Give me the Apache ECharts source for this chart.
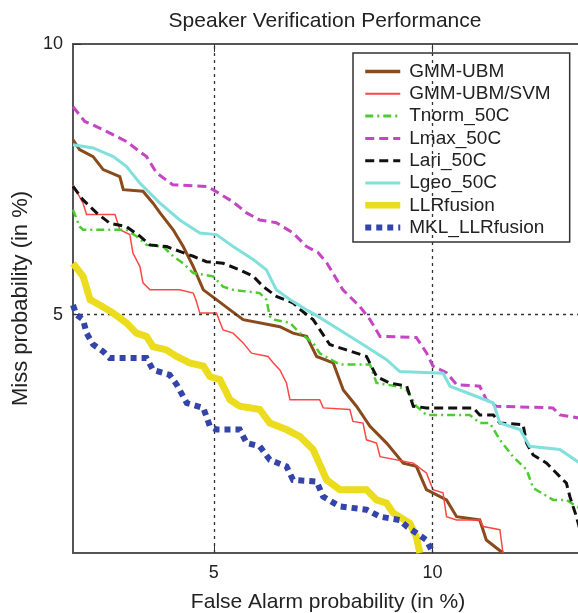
<!DOCTYPE html>
<html>
<head>
<meta charset="utf-8">
<script src="https://cdn.jsdelivr.net/npm/echarts@6/dist/echarts.min.js"></script>
<style>html,body{margin:0;padding:0;background:#fff}#c{width:578px;height:613px}</style>
</head>
<body>
<div id="c"></div>
<script>
const seriesNames = ["GMM-UBM","GMM-UBM/SVM","Tnorm_50C","Lmax_50C","Lari_50C","Lgeo_50C","LLRfusion","MKL_LLRfusion"];
const xTicks = [5, 10];
const yTicks = [5, 10];
const gridX = [5, 10];
const gridY = [5];

const gmmUbm = [[1.78,8.23],[1.93,8.05],[2.24,7.92],[2.47,7.68],[2.85,7.55],[2.93,7.31],[3.38,7.28],[3.61,7.06],[3.77,6.88],[4.07,6.57],[4.30,6.26],[4.53,5.89],[4.76,5.46],[5.06,5.28],[5.37,5.09],[5.67,4.91],[6.51,4.78],[6.81,4.66],[7.12,4.60],[7.35,4.23],[7.73,4.11],[7.96,3.61],[8.26,3.31],[8.57,2.94],[8.95,2.63],[9.33,2.26],[9.63,2.20],[9.86,1.77],[10.32,1.58],[10.55,1.27],[11.08,1.21],[11.23,0.84],[11.61,0.6]];
const gmmSvm = [[1.78,7.40],[2.01,7.06],[2.09,6.85],[2.74,6.85],[2.85,6.57],[3.08,6.48],[3.15,6.14],[3.31,5.89],[3.38,5.59],[3.54,5.46],[4.22,5.46],[4.53,5.40],[4.60,5.25],[4.68,5.03],[5.06,5.03],[5.21,4.72],[5.44,4.66],[5.67,4.48],[5.86,4.29],[6.24,4.23],[6.36,4.11],[6.51,3.98],[6.66,3.74],[6.74,3.43],[7.42,3.43],[7.50,3.28],[8.11,3.25],[8.18,3.03],[8.41,3.00],[8.49,2.69],[8.72,2.63],[8.80,2.38],[9.56,2.26],[9.86,2.08],[10.01,1.77],[10.24,1.71],[10.32,1.27],[10.55,1.21],[11.08,1.21],[11.16,1.09],[11.54,1.03],[11.61,0.6]];
const tnorm = [[1.78,6.94],[1.93,6.63],[2.01,6.57],[3.00,6.57],[3.23,6.45],[3.46,6.29],[3.84,6.26],[4.07,6.08],[4.30,5.95],[4.53,5.77],[4.98,5.71],[5.21,5.52],[5.44,5.46],[6.05,5.40],[6.20,5.28],[6.28,4.97],[6.36,4.91],[6.74,4.85],[6.97,4.66],[7.27,4.48],[7.42,4.29],[7.88,4.08],[8.57,4.08],[8.72,3.74],[9.18,3.68],[9.41,3.61],[9.63,3.31],[9.86,3.15],[10.85,3.15],[11.08,3.00],[11.31,3.00],[11.54,2.69],[11.84,2.38],[12.15,2.14],[12.30,1.80],[12.76,1.58],[13.06,1.58],[13.29,1.46],[13.44,1.40]];
const lmax = [[1.78,8.84],[2.05,8.57],[2.46,8.42],[3.00,8.20],[3.46,7.92],[3.69,7.62],[4.06,7.40],[4.83,7.37],[4.98,7.31],[5.43,7.09],[5.75,6.88],[6.05,6.75],[6.43,6.70],[6.81,6.51],[7.12,6.26],[7.38,6.15],[7.58,5.96],[7.95,5.46],[8.34,5.15],[8.57,4.91],[8.80,4.60],[9.63,4.58],[9.86,4.30],[10.01,4.05],[10.32,3.93],[10.55,3.71],[11.08,3.68],[11.23,3.43],[11.46,3.31],[12.75,3.28],[12.91,3.15],[13.44,3.08]];
const lari = [[1.78,7.37],[2.01,7.12],[2.32,6.88],[2.62,6.69],[3.00,6.63],[3.31,6.45],[3.54,6.29],[3.92,6.26],[4.22,6.17],[4.53,6.08],[4.83,5.98],[5.21,5.95],[5.59,5.83],[5.90,5.71],[6.13,5.52],[6.43,5.34],[6.81,5.22],[6.97,5.10],[7.27,4.91],[7.65,4.45],[8.03,4.35],[8.49,4.23],[8.72,3.86],[9.02,3.74],[9.41,3.68],[9.56,3.31],[9.86,3.28],[10.93,3.28],[11.08,3.15],[11.39,3.15],[11.54,3.00],[12.07,2.97],[12.15,2.63],[12.30,2.41],[12.61,2.26],[12.91,2.01],[13.06,1.89],[13.14,1.64],[13.29,1.27],[13.38,1.0],[13.44,0.85]];
const lgeo = [[1.78,8.14],[2.24,8.08],[2.70,7.92],[3.00,7.74],[3.31,7.43],[3.77,7.06],[4.22,6.75],[4.68,6.51],[5.06,6.48],[5.44,6.26],[5.90,6.02],[6.20,5.83],[6.43,5.46],[6.74,5.28],[7.12,5.09],[7.38,4.97],[7.88,4.72],[8.49,4.41],[8.95,4.17],[9.25,3.95],[10.24,3.92],[10.40,3.68],[11.01,3.49],[11.39,3.37],[11.54,3.00],[12.00,2.88],[12.22,2.57],[12.91,2.51],[13.44,2.22]];
const llrFusion = [[1.78,5.95],[2.01,5.71],[2.17,5.28],[2.39,5.18],[2.70,5.03],[3.00,4.85],[3.23,4.66],[3.46,4.60],[3.61,4.41],[3.92,4.35],[4.15,4.23],[4.45,4.11],[4.76,4.05],[4.91,3.86],[5.14,3.80],[5.37,3.43],[5.59,3.31],[6.05,3.25],[6.28,3.00],[6.66,2.88],[6.97,2.75],[7.27,2.51],[7.58,1.95],[7.88,1.77],[8.49,1.77],[8.72,1.58],[8.95,1.52],[9.10,1.34],[9.48,1.15],[9.63,0.90],[9.71,0.6]];
const mklFusion = [[1.78,5.18],[1.86,5.00],[2.01,4.91],[2.09,4.66],[2.24,4.45],[2.47,4.32],[2.62,4.20],[3.46,4.20],[3.61,3.98],[3.99,3.89],[4.15,3.71],[4.38,3.37],[4.76,3.28],[4.91,2.94],[5.06,2.88],[5.59,2.88],[5.75,2.63],[6.05,2.57],[6.28,2.32],[6.66,2.20],[6.81,1.95],[7.35,1.92],[7.50,1.64],[7.88,1.46],[8.49,1.40],[8.80,1.27],[9.25,1.21],[9.41,1.09],[9.63,0.97],[9.86,0.84],[10.01,0.6]];

const seriesData = [gmmUbm, gmmSvm, tnorm, lmax, lari, lgeo, llrFusion, mklFusion];
const styles = [
  {color:'#8a4a1c', width:3, type:'solid'},
  {color:'#ff4646', width:1.5, type:'solid'},
  {color:'#4ccc30', width:2.5, type:[8,4,2,4]},
  {color:'#c545c5', width:3, type:[9,5]},
  {color:'#111111', width:3, type:[9,5]},
  {color:'#82e0dc', width:3, type:'solid'},
  {color:'#ecdc1e', width:7, type:'solid'},
  {color:'#3344aa', width:6, type:[6,5]}
];
const legendWidths = [3.5, 2, 3, 3, 3, 3, 6.5, 6];

const FONT = 'Liberation Sans, Arial, sans-serif';
const chart = echarts.init(document.getElementById('c'), null, {renderer:'canvas'});

const series = seriesNames.map((n,i)=>({
  name:n, type:'line', data:seriesData[i], symbol:'none', showSymbol:false,
  clip:true, animation:false, z:3+i,
  itemStyle:{color:styles[i].color},
  lineStyle:{color:styles[i].color, width:styles[i].width, type:styles[i].type, cap:'butt', join:'miter'}
}));
series.unshift({
  name:'grid', type:'line', data:[], z:1, silent:true, animation:false,
  markLine:{silent:true, symbol:'none', animation:false, label:{show:false},
    lineStyle:{color:'#333', width:1.3, type:[3,4]},
    data: gridX.map(v=>({xAxis:v})).concat(gridY.map(v=>({yAxis:v})))}
});

chart.setOption({
  backgroundColor:'#fff',
  animation:false,
  title:{text:'Speaker Verification Performance', left:325, top:11, textAlign:'center', padding:0,
    textStyle:{fontFamily:FONT, fontSize:21, fontWeight:'normal', color:'#222'}},
  legend:{data:seriesNames.map((n,i)=>({name:n, lineStyle:{width:legendWidths[i], type:styles[i].type, color:styles[i].color, cap:'butt'}})),
    orient:'vertical', left:353, top:53, padding:[9,19,5,9],
    itemWidth:35, itemHeight:20, itemGap:3.3, backgroundColor:'#fff', borderColor:'#333', borderWidth:1.5,
    itemStyle:{opacity:0},
    textStyle:{fontFamily:FONT, fontSize:19, color:'#222', padding:[0,0,0,4]}},
  grid:{left:73, top:44, width:510, height:509, outerBoundsMode:'none', containLabel:false,
    show:true, borderColor:'#555', borderWidth:2, backgroundColor:'transparent'},
  xAxis:[{type:'value', min:1.78, max:13.44, position:'bottom',
    axisLine:{show:false}, splitLine:{show:false},
    axisTick:{show:true, inside:true, length:8, customValues:xTicks, lineStyle:{color:'#333'}},
    axisLabel:{customValues:xTicks, fontFamily:FONT, fontSize:18, color:'#222', margin:11},
    name:'False Alarm probability (in %)', nameLocation:'middle', nameGap:39,
    nameTextStyle:{fontFamily:FONT, fontSize:21, color:'#222'}},
    {type:'value', min:1.78, max:13.44, position:'top',
    axisLine:{show:false}, splitLine:{show:false}, axisLabel:{show:false},
    axisTick:{show:true, inside:true, length:8, customValues:xTicks, lineStyle:{color:'#333'}}}],
  yAxis:{type:'value', min:0.6, max:10, axisLine:{show:false}, splitLine:{show:false},
    axisTick:{show:true, inside:true, length:8, customValues:yTicks, lineStyle:{color:'#333'}},
    axisLabel:{customValues:yTicks, fontFamily:FONT, fontSize:18, color:'#222', margin:10},
    name:'Miss probability (in %)', nameLocation:'middle', nameGap:41,
    nameTextStyle:{fontFamily:FONT, fontSize:22, color:'#222'}},
  series:series
});
</script>
</body>
</html>
